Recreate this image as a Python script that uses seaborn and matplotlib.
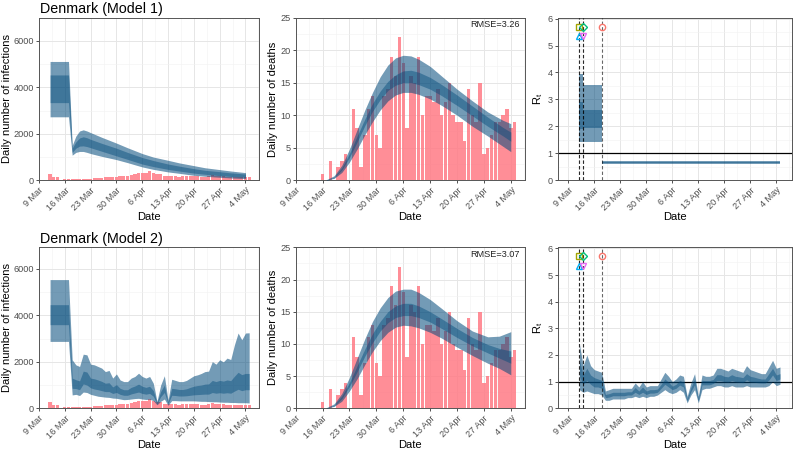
import numpy as np
import pandas as pd
import matplotlib
matplotlib.use("Agg")
import matplotlib.pyplot as plt
import seaborn as sns

# ---------------- data (day = days since 9 Mar 2020) ----------------
obs_day = list(range(3, 58))  # 12 Mar .. 5 May

cases = [252, 157, 127, 0, 37, 39, 63, 64, 72, 48,
         60, 48, 98, 84, 100, 125, 132, 145, 150, 170,
         170, 190, 230, 280, 330, 300, 320, 390, 330, 290,
         250, 200, 180, 180, 170, 160, 190, 180, 170, 200,
         180, 160, 150, 200, 230, 170, 200, 170, 150, 160,
         160, 150, 130, 140, 130]

deaths = [0, 0, 0, 0, 1, 0, 3, 0, 2, 3,
          4, 0, 11, 8, 2, 7, 11, 13, 7, 5,
          13, 14, 19, 16, 22, 18, 8, 16, 15, 19,
          10, 13, 13, 12, 14, 10, 12, 15, 10, 9,
          9, 6, 14, 10, 9, 15, 4, 5, 7, 9,
          9, 10, 11, 8, 9]

# Model 1 infections
inf1_day = [3, 8, 9, 10, 11, 12, 13, 14, 17, 21, 24, 28, 31, 35, 38, 42, 45, 49, 52, 56]
inf1_hi95 = [5110, 5110, 1500, 1900, 2120, 2170, 2120, 2050, 1850, 1600, 1400, 1150, 1000, 860, 750, 630, 540, 460, 400, 330]
inf1_lo95 = [2730, 2730, 1080, 1200, 1240, 1240, 1200, 1150, 1030, 890, 760, 575, 470, 360, 300, 215, 175, 130, 100, 75]
inf1_hi50 = [4530, 4530, 1380, 1650, 1820, 1870, 1830, 1760, 1590, 1380, 1200, 980, 850, 700, 610, 500, 430, 370, 320, 270]
inf1_lo50 = [3340, 3340, 1200, 1380, 1470, 1480, 1450, 1400, 1250, 1050, 900, 700, 590, 470, 400, 310, 260, 200, 165, 130]

# Model 1 deaths
dth1_day = [8, 10, 12, 14, 16, 18, 20, 22, 24, 26, 28, 30, 32, 35, 38, 42, 46, 50, 54, 56]
dth1_hi95 = [0.1, 0.7, 2.3, 4.8, 7.8, 10.8, 13.5, 15.9, 17.7, 18.8, 19.2, 19.1, 18.6, 17.5, 16.0, 14.0, 12.2, 10.5, 9.2, 8.7]
dth1_lo95 = [0.0, 0.3, 1.2, 2.8, 4.8, 7.0, 9.0, 10.8, 12.2, 13.1, 13.5, 13.5, 13.2, 12.5, 11.5, 10.0, 8.3, 6.8, 5.2, 4.4]
dth1_hi50 = [0.0, 0.5, 1.9, 4.1, 6.8, 9.4, 11.8, 13.7, 15.2, 16.2, 16.8, 16.9, 16.6, 15.8, 14.7, 13.1, 11.4, 9.7, 8.1, 7.4]
dth1_lo50 = [0.0, 0.4, 1.6, 3.5, 5.9, 8.4, 10.6, 12.4, 13.8, 14.6, 15.0, 15.0, 14.7, 14.0, 13.0, 11.5, 9.9, 8.3, 6.8, 6.0]

# Model 1 Rt (piecewise constant, change points)
rt1_day = [3, 4, 9, 57]
rt1_hi95 = [3.95, 3.52, 0.72]
rt1_lo95 = [1.42, 1.42, 0.62]
rt1_hi50 = [2.90, 2.60, 0.695]
rt1_lo50 = [1.90, 1.93, 0.645]

# Model 2 infections (daily)
inf2_hi95 = [5540, 5540, 5540, 5540, 5540, 5540,
             2090, 1870, 1800, 2330, 2300, 1900, 1870, 1800, 1730, 1580,
             1630, 1300, 1480, 1220, 1150, 1150, 1300, 1370, 1510, 1370,
             1300, 1370, 1080, 300, 1000, 1400, 350, 1250, 1200, 1150,
             1150, 1200, 1300, 1400, 1440, 1500, 1580, 1600, 2010, 1900,
             2090, 2000, 2160, 2100, 2730, 3240, 2950, 3240, 3250]
inf2_lo95 = [2880, 2880, 2880, 2880, 2880, 2880,
             575, 600, 550, 700, 680, 600, 560, 520, 500, 480,
             470, 440, 430, 400, 370, 380, 400, 420, 430, 400,
             380, 390, 330, 150, 300, 400, 130, 330, 330, 320,
             320, 320, 320, 320, 310, 300, 300, 290, 280, 280,
             270, 260, 260, 250, 250, 240, 240, 240, 230]
inf2_lo50 = [3600, 3600, 3600, 3600, 3600, 3600,
             860, 850, 800, 1050, 1000, 880, 830, 800, 760, 720,
             720, 640, 680, 600, 560, 560, 620, 660, 700, 640,
             610, 640, 520, 200, 500, 680, 200, 560, 550, 530,
             530, 540, 560, 580, 590, 600, 610, 610, 680, 650,
             670, 650, 670, 650, 740, 820, 760, 800, 800]
inf2_hi50 = [4460, 4460, 4460, 4460, 4460, 4460,
             1300, 1230, 1180, 1600, 1560, 1300, 1270, 1220, 1160, 1080,
             1100, 920, 1020, 860, 800, 800, 900, 960, 1040, 950,
             900, 950, 760, 250, 720, 1000, 260, 860, 840, 810,
             810, 840, 900, 950, 980, 1000, 1040, 1050, 1200, 1150,
             1200, 1170, 1220, 1190, 1380, 1550, 1450, 1500, 1500]

# Model 2 deaths
dth2_day = [8, 10, 12, 14, 16, 18, 20, 22, 24, 26, 28, 30, 32, 35, 38, 42, 46, 50, 53, 56]
dth2_hi95 = [0.1, 0.7, 2.3, 4.8, 7.8, 10.8, 13.5, 15.6, 17.2, 18.2, 18.5, 18.5, 18.0, 16.9, 15.5, 13.6, 12.0, 11.1, 11.2, 11.9]
dth2_lo95 = [0.0, 0.3, 1.1, 2.7, 4.6, 6.8, 8.8, 10.5, 11.8, 12.6, 12.9, 12.8, 12.5, 11.8, 10.9, 9.5, 8.2, 7.0, 6.2, 5.2]
dth2_hi50 = [0.0, 0.5, 1.9, 4.0, 6.6, 9.2, 11.6, 13.5, 15.0, 15.9, 16.3, 16.3, 15.9, 15.0, 13.9, 12.4, 11.0, 9.9, 9.3, 8.9]
dth2_lo50 = [0.0, 0.4, 1.5, 3.4, 5.7, 8.1, 10.2, 12.0, 13.3, 14.1, 14.4, 14.4, 14.1, 13.4, 12.4, 11.0, 9.7, 8.6, 7.8, 7.0]

# Model 2 Rt (daily)
rt2_hi95 = [2.4, 1.6, 2.0, 1.6, 1.45, 1.4, 1.35, 0.65, 0.7, 0.75,
            0.75, 0.75, 0.75, 0.75, 0.75, 0.95, 0.8, 1.0, 0.8, 0.85,
            0.85, 0.85, 1.1, 1.35, 1.2, 1.0, 1.1, 1.25, 1.2, 0.45,
            0.95, 1.3, 0.45, 1.25, 1.2, 1.2, 1.25, 1.5, 1.5, 1.45,
            1.4, 1.5, 1.45, 1.4, 1.35, 1.6, 1.45, 1.4, 1.35, 1.3,
            1.3, 1.55, 1.8, 1.5, 1.55]
rt2_lo95 = [0.7, 0.6, 0.65, 0.6, 0.55, 0.55, 0.5, 0.3, 0.3, 0.35,
            0.35, 0.35, 0.35, 0.4, 0.4, 0.45, 0.4, 0.45, 0.4, 0.45,
            0.45, 0.5, 0.6, 0.7, 0.6, 0.55, 0.6, 0.7, 0.6, 0.2,
            0.5, 0.7, 0.2, 0.7, 0.75, 0.75, 0.8, 0.85, 0.85, 0.8,
            0.8, 0.85, 0.8, 0.8, 0.8, 0.85, 0.8, 0.8, 0.8, 0.8,
            0.8, 0.85, 1.0, 0.85, 0.9]
rt2_hi50 = [1.8, 1.25, 1.5, 1.25, 1.15, 1.1, 1.05, 0.52, 0.55, 0.6,
            0.6, 0.6, 0.6, 0.62, 0.62, 0.78, 0.65, 0.8, 0.65, 0.7,
            0.7, 0.72, 0.9, 1.1, 0.98, 0.83, 0.9, 1.05, 0.98, 0.36,
            0.78, 1.08, 0.36, 1.05, 1.04, 1.04, 1.08, 1.26, 1.26, 1.2,
            1.18, 1.26, 1.2, 1.18, 1.15, 1.3, 1.2, 1.17, 1.13, 1.1,
            1.1, 1.3, 1.5, 1.25, 1.3]
rt2_lo50 = [1.2, 0.9, 1.05, 0.9, 0.8, 0.8, 0.75, 0.4, 0.42, 0.47,
            0.47, 0.47, 0.47, 0.5, 0.5, 0.6, 0.52, 0.6, 0.52, 0.57,
            0.57, 0.6, 0.75, 0.9, 0.8, 0.7, 0.75, 0.87, 0.8, 0.27,
            0.63, 0.88, 0.27, 0.88, 0.88, 0.88, 0.93, 1.04, 1.04, 1.0,
            0.98, 1.04, 1.0, 0.98, 0.96, 1.07, 0.99, 0.98, 0.96, 0.95,
            0.95, 1.06, 1.25, 1.04, 1.1]

# interventions
int_names = ["Lockdown", "Public events", "School closure", "Self isolation", "Social distancing"]
int_day = [9, 3, 4, 3, 4]
int_y = [5.7, 5.7, 5.7, 5.35, 5.35]
int_colors = ["#F8766D", "#A3A500", "#00BF7D", "#00B0F6", "#E76BF3"]
int_markers = ["o", "s", "D", "^", "v"]

rmse = ["RMSE=3.26", "RMSE=3.07"]
titles = ["Denmark (Model 1)", "Denmark (Model 2)"]
tick_day = list(range(0, 57, 7))

# ---------------- style ----------------
sns.set_theme(style="whitegrid")
plt.rcParams["font.family"] = ["Liberation Sans", "DejaVu Sans"]

ORIGIN = pd.Timestamp("2020-03-09")


def D(days):
    return ORIGIN + pd.to_timedelta(np.asarray(days, dtype=float), unit="D")


def d1(x):
    return ORIGIN + pd.Timedelta(days=x)


BAND = "#00497A"
BAR = "#FF7A85"
tick_dates = D(tick_day)
tick_labels = [f"{d.day} {d.strftime('%b')}" for d in tick_dates]
minor_dates = D(np.array(tick_day) + 3.5)

fig = plt.figure(figsize=(7.94, 4.5), dpi=100)
W, H = 794.0, 450.0


def add_ax(x0, x1, ytop, ybot):
    return fig.add_axes([x0 / W, 1 - ybot / H, (x1 - x0) / W, (ybot - ytop) / H])


def style(ax, xlim, ylim, yticks, yminor, ylabel, ylx):
    ax.set_facecolor("white")
    ax.set_axisbelow(True)
    ax.set_xlim(d1(xlim[0]), d1(xlim[1]))
    ax.set_ylim(*ylim)
    ax.set_xticks(tick_dates)
    ax.set_xticklabels(tick_labels, rotation=45, ha="right", va="top",
                       rotation_mode="anchor", fontsize=6.6, color="#4D4D4D")
    ax.set_xticks(minor_dates, minor=True)
    ax.set_yticks(yticks)
    ax.set_yticks(yminor, minor=True)
    ax.tick_params(axis="y", labelsize=6.6, labelcolor="#4D4D4D")
    ax.tick_params(which="major", bottom=True, left=True, length=2.2,
                   width=0.6, color="#333333", pad=1.5)
    ax.tick_params(which="minor", length=0)
    ax.grid(which="major", color="#E6E6E6", lw=0.7)
    ax.grid(which="minor", color="#F2F2F2", lw=0.4)
    for s in ax.spines.values():
        s.set_color("#555555")
        s.set_linewidth(0.7)
    ax.set_xlabel("Date", fontsize=8, color="black")
    ax.set_ylabel(ylabel, fontsize=8, color="black")
    ax.xaxis.set_label_coords(0.5, -0.225)
    ax.xaxis.label.set_va("center")
    ax.yaxis.set_label_coords(ylx, 0.5)
    ax.yaxis.label.set_va("center")


def bands(ax, day, lo95, hi95, lo50, hi50, step=None):
    x = D(day)
    ax.fill_between(x, lo95, hi95, color=BAND, alpha=0.55, lw=0, step=step, zorder=3)
    ax.fill_between(x, lo50, hi50, color=BAND, alpha=0.45, lw=0, step=step, zorder=4)


rows = [(17.5, 180.3), (247.3, 408.3)]
xa = (39.0, 259.3)
xb = (295.7, 525.0)
xc = (557.7, 791.7)

for r, (yt, yb) in enumerate(rows):
    axA = add_ax(*xa, yt, yb)
    axB = add_ax(*xb, yt, yb)
    axC = add_ax(*xc, yt, yb)

    # infections
    axA.bar(D(obs_day), cases, width=0.9, color=BAR, alpha=0.85, lw=0, zorder=2)
    if r == 0:
        bands(axA, inf1_day, inf1_lo95, inf1_hi95, inf1_lo50, inf1_hi50)
    else:
        bands(axA, obs_day, inf2_lo95, inf2_hi95, inf2_lo50, inf2_hi50)
    style(axA, (0, 59.75), (0, 7000 if r == 0 else 6930), [0, 2000, 4000, 6000],
          [1000, 3000, 5000], "Daily number of infections", -0.145)

    # deaths
    axB.bar(D(obs_day), deaths, width=0.9, color=BAR, alpha=0.85, lw=0, zorder=2)
    if r == 0:
        bands(axB, dth1_day, dth1_lo95, dth1_hi95, dth1_lo50, dth1_hi50)
    else:
        bands(axB, dth2_day, dth2_lo95, dth2_hi95, dth2_lo50, dth2_hi50)
    style(axB, (0, 59.7), (0, 25), [0, 5, 10, 15, 20, 25],
          [2.5, 7.5, 12.5, 17.5, 22.5], "Daily number of deaths", -0.1)
    axB.text(0.975, 0.985, rmse[r], transform=axB.transAxes, ha="right",
             va="top", fontsize=6.6, color="#222222")

    # Rt
    axC.axhline(1, color="black", lw=0.9, zorder=2)
    if r == 0:
        bands(axC, rt1_day, rt1_lo95 + rt1_lo95[-1:], rt1_hi95 + rt1_hi95[-1:],
              rt1_lo50 + rt1_lo50[-1:], rt1_hi50 + rt1_hi50[-1:], step="post")
    else:
        bands(axC, obs_day, rt2_lo95, rt2_hi95, rt2_lo50, rt2_hi50)
    for nm, dd, yy, cc, mm in zip(int_names, int_day, int_y, int_colors, int_markers):
        axC.axvline(d1(dd), color="black", lw=0.8, ls=(0, (3, 2)), alpha=0.6, zorder=5)
        axC.plot([d1(dd)], [yy], marker=mm, ms=4.5, mfc="none", mec=cc, mew=1.0,
                 ls="none", zorder=6)
    style(axC, (-2.85, 60.15), (0, 6.04), [0, 1, 2, 3, 4, 5, 6],
          [0.5, 1.5, 2.5, 3.5, 4.5, 5.5], r"$\mathregular{R_t}$", -0.085)

    fig.text(39.5 / W, 1 - (yt - 4.3) / H, titles[r], fontsize=10.3,
             ha="left", va="baseline", color="black")

fig.savefig("out.png", dpi=100)
